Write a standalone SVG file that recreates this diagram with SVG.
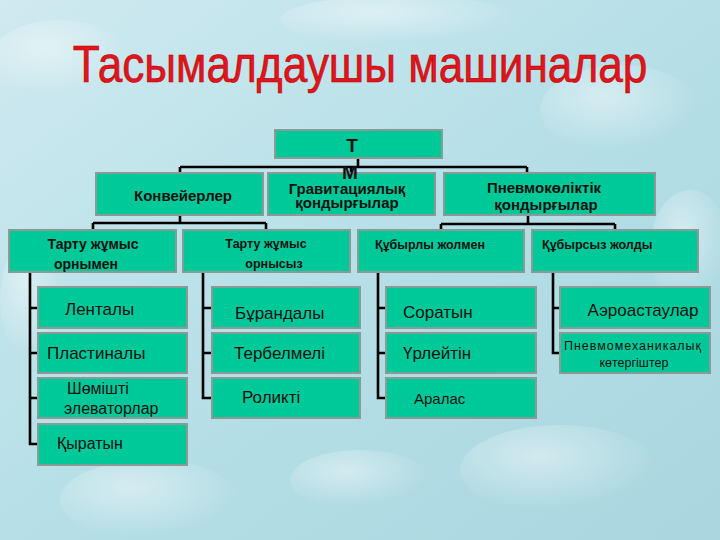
<svg xmlns="http://www.w3.org/2000/svg" width="720" height="540" viewBox="0 0 720 540">
<defs>
<linearGradient id="bg" x1="0" y1="0" x2="1" y2="1">
<stop offset="0" stop-color="#cfeaf0"/>
<stop offset="0.5" stop-color="#b6dfe7"/>
<stop offset="1" stop-color="#a9d6df"/>
</linearGradient>
<radialGradient id="drop" cx="0.4" cy="0.35" r="0.6">
<stop offset="0" stop-color="#ffffff" stop-opacity="0.55"/>
<stop offset="1" stop-color="#ffffff" stop-opacity="0"/>
</radialGradient>
<style>
.box{fill:#00c999;stroke:#8a9a96;stroke-width:2}
.conn{fill:none;stroke:#000;stroke-width:2.6}
.b{font-family:"Liberation Sans",Arial,sans-serif;font-weight:bold;fill:#111}
.r{font-family:"Liberation Sans",Arial,sans-serif;fill:#111}
.title{font-family:"Liberation Sans",Arial,sans-serif;fill:#e3141b}
</style>
</defs>
<rect width="720" height="540" fill="url(#bg)"/>
<g opacity="0.8">
<ellipse cx="60" cy="60" rx="70" ry="40" fill="url(#drop)"/>
<ellipse cx="620" cy="110" rx="80" ry="45" fill="url(#drop)"/>
<ellipse cx="150" cy="500" rx="90" ry="40" fill="url(#drop)"/>
<ellipse cx="560" cy="470" rx="100" ry="45" fill="url(#drop)"/>
<ellipse cx="360" cy="480" rx="70" ry="30" fill="url(#drop)"/>
<ellipse cx="690" cy="250" rx="40" ry="60" fill="url(#drop)"/>
<ellipse cx="30" cy="300" rx="30" ry="60" fill="url(#drop)"/>
<ellipse cx="400" cy="20" rx="120" ry="25" fill="url(#drop)"/>
</g>

<text class="title" transform="translate(360 82) scale(0.85 1)" x="0" y="0" font-size="52" text-anchor="middle" stroke="#b00000" stroke-width="0.6">Тасымалдаушы машиналар</text>

<g id="connectors">
<path class="conn" d="M358 158V167M180 167H527M180 167V173M351 167V173M527 167V173"/>
<path class="conn" d="M180 215V223M93 223H266M93 223V230M266 223V230"/>
<path class="conn" d="M528 215V224M441 224H615M441 224V230M615 224V230"/>
<path class="conn" d="M30 272V444H38M30 308H38M30 353H38M30 398H38"/>
<path class="conn" d="M203 272V398H212M203 308H212M203 353H212"/>
<path class="conn" d="M378 272V398H386M378 308H386M378 353H386"/>
<path class="conn" d="M553 272V353H560M553 308H560"/>
</g>

<g id="n-tm"><rect class="box" x="275" y="130" width="167" height="28"/></g>
<g id="n-konv"><rect class="box" x="96" y="173" width="167" height="42"/><text class="b" x="183" y="201" font-size="15" text-anchor="middle">Конвейерлер</text></g>
<g id="n-grav"><rect class="box" x="268" y="173" width="167" height="42"/><text class="b" x="347" y="194" font-size="15" text-anchor="middle">Гравитациялық</text><text class="b" x="347" y="208" font-size="15" text-anchor="middle">қондырғылар</text></g>
<g id="n-pnev"><rect class="box" x="444" y="173" width="211" height="42"/><text class="b" x="544" y="193" font-size="15" text-anchor="middle">Пневмокөліктік</text><text class="b" x="546" y="210" font-size="15" text-anchor="middle">қондырғылар</text></g>

<g id="n-tarturn"><rect class="box" x="9" y="230" width="167" height="42"/><text class="b" x="93" y="249" font-size="14" text-anchor="middle">Тарту жұмыс</text><text class="b" x="86" y="269" font-size="14" text-anchor="middle">орнымен</text></g>
<g id="n-tartsyz"><rect class="box" x="183" y="230" width="167" height="42"/><text class="b" x="266" y="248" font-size="12.5" text-anchor="middle">Тарту жұмыс</text><text class="b" x="274" y="268" font-size="12.5" text-anchor="middle">орнысыз</text></g>
<g id="n-kubyr"><rect class="box" x="358" y="230" width="166" height="42"/><text class="b" x="375" y="249" font-size="12.5">Құбырлы жолмен</text></g>
<g id="n-kubyrsyz"><rect class="box" x="532" y="230" width="166" height="42"/><text class="b" x="542" y="249" font-size="12.5">Құбырсыз жолды</text></g>

<g id="n-lent"><rect class="box" x="38" y="287" width="149" height="41"/><text class="r" x="65" y="315" font-size="17">Ленталы</text></g>
<g id="n-plast"><rect class="box" x="38" y="333" width="149" height="40"/><text class="r" x="47" y="359" font-size="17">Пластиналы</text></g>
<g id="n-shom"><rect class="box" x="38" y="378" width="149" height="40"/><text class="r" x="67" y="394" font-size="16">Шөмішті</text><text class="r" x="64" y="414" font-size="16">элеваторлар</text></g>
<g id="n-kyr"><rect class="box" x="38" y="424" width="149" height="41"/><text class="r" x="57" y="449" font-size="16">Қыратын</text></g>

<g id="n-burand"><rect class="box" x="212" y="287" width="148" height="41"/><text class="r" x="235" y="319" font-size="17">Бұрандалы</text></g>
<g id="n-terb"><rect class="box" x="212" y="333" width="148" height="40"/><text class="r" x="234" y="359" font-size="17">Тербелмелі</text></g>
<g id="n-rolik"><rect class="box" x="212" y="378" width="148" height="40"/><text class="r" x="242" y="403" font-size="17">Роликті</text></g>

<g id="n-sorat"><rect class="box" x="386" y="287" width="150" height="41"/><text class="r" x="403" y="318" font-size="17">Соратын</text></g>
<g id="n-urleit"><rect class="box" x="386" y="333" width="150" height="40"/><text class="r" x="403" y="359" font-size="17">Үрлейтін</text></g>
<g id="n-aralas"><rect class="box" x="386" y="378" width="150" height="40"/><text class="r" x="414" y="404" font-size="15">Аралас</text></g>

<g id="n-aero"><rect class="box" x="560" y="287" width="150" height="41"/><text class="r" x="643" y="316" font-size="17" text-anchor="middle">Аэроастаулар</text></g>
<g id="n-pnevmeh"><rect class="box" x="560" y="333" width="150" height="40"/><text class="r" x="564" y="350" font-size="12.5" textLength="137" lengthAdjust="spacing">Пневмомеханикалық</text><text class="r" x="634" y="367" font-size="12.5" text-anchor="middle">көтергіштер</text></g>

<g id="n-tm-text"><text class="b" x="352" y="152" font-size="19" text-anchor="middle">Т</text><text class="b" x="350" y="179" font-size="19" text-anchor="middle">М</text></g>
</svg>
